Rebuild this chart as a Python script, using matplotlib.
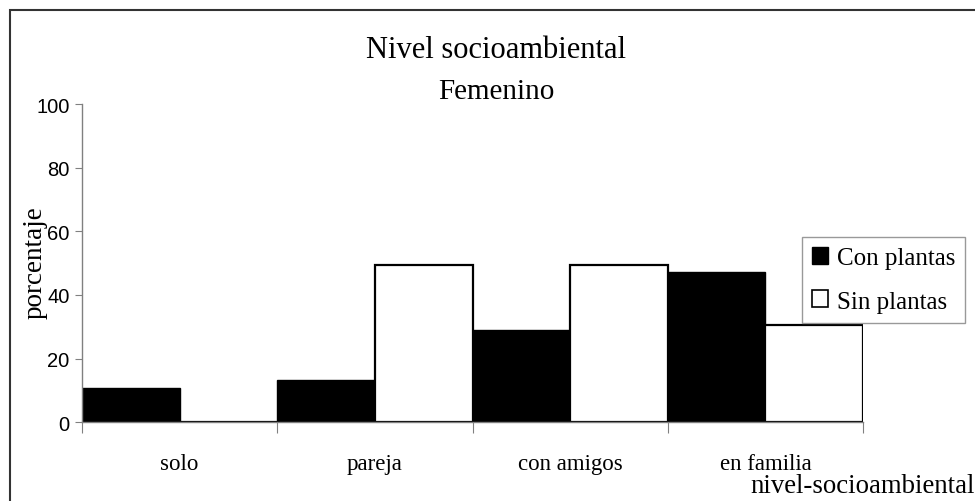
import matplotlib
matplotlib.use("Agg")
import matplotlib.pyplot as plt
import numpy as np
from matplotlib.patches import Rectangle, Patch

categories = ["solo", "pareja", "con amigos", "en familia"]
con_plantas = [10.7, 13.2, 29.0, 47.1]
sin_plantas = [0.0, 49.5, 49.5, 30.6]
series_names = ["Con plantas", "Sin plantas"]
yticks = [0, 20, 40, 60, 80, 100]

W, H = 975, 502
fig = plt.figure(figsize=(W / 100, H / 100), dpi=100)
serif = ["Liberation Serif", "DejaVu Serif"]
sans = ["Liberation Sans", "DejaVu Sans"]

# outer frame
fig.patches.append(Rectangle((10 / W, -0.05), 1.2, 1 - 11 / H + 0.05, transform=fig.transFigure,
                             fill=False, edgecolor="#333333", linewidth=1.5))

ax = fig.add_axes([82 / W, 1 - 423.3 / H, (863 - 82) / W, (423.3 - 105) / H])
x = np.arange(len(categories))
ax.bar(x + 0.25, con_plantas, width=0.5, color="black", edgecolor="black", linewidth=1.0)
ax.bar(x + 0.75, sin_plantas, width=0.5, color="white", edgecolor="black", linewidth=1.6)

ax.set_xlim(0, len(categories))
ax.set_ylim(0, 100)
for s in ["top", "right"]:
    ax.spines[s].set_visible(False)
for s in ["left", "bottom"]:
    ax.spines[s].set_color("#808080")
    ax.spines[s].set_linewidth(1.0)
ax.set_yticks(yticks)
ax.set_yticklabels([str(v) for v in yticks], fontfamily=sans, fontsize=14.5)
ax.tick_params(axis="y", length=5, color="#808080", pad=4)
ax.set_xticks(np.arange(len(categories) + 1))
ax.set_xticklabels([])
ax.set_xticks(x + 0.5, minor=True)
ax.set_xticklabels(categories, minor=True, fontfamily=serif, fontsize=16.5)
ax.tick_params(axis="x", which="major", length=8, color="#808080")
ax.tick_params(axis="x", which="minor", length=0, pad=22)

fig.text(35 / W, 1 - 263 / H, "porcentaje", rotation=90, ha="center", va="center",
         fontfamily=serif, fontsize=19.5)
fig.text(975 / W, 1 - 487 / H, "nivel-socioambiental", ha="right", va="center",
         fontfamily=serif, fontsize=19.3)
fig.text(496 / W, 1 - 51 / H, "Nivel socioambiental", ha="center", va="center",
         fontfamily=serif, fontsize=22)
fig.text(496 / W, 1 - 92 / H, "Femenino", ha="center", va="center",
         fontfamily=serif, fontsize=21)

handles = [Patch(facecolor="black", edgecolor="black"),
           Patch(facecolor="white", edgecolor="black", linewidth=1.2)]
leg = fig.legend(handles, series_names, loc="upper left",
                 bbox_to_anchor=(802 / W, 1 - 238 / H), frameon=True, fancybox=False,
                 edgecolor="#808080", prop={"family": serif, "size": 18},
                 handlelength=0.65, handleheight=0.65, handletextpad=0.35,
                 borderpad=0.4, labelspacing=0.85, borderaxespad=0)
leg.get_frame().set_linewidth(1.0)

fig.savefig("out.png", dpi=100)
